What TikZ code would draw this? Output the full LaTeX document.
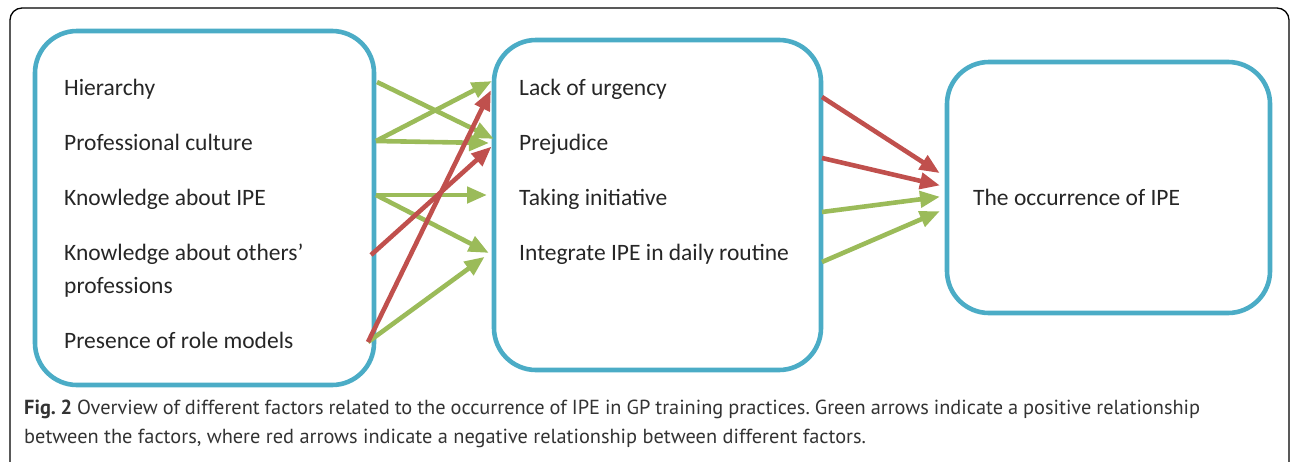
\documentclass[tikz,border=0pt]{standalone}
\usepackage{fontspec}
\setmainfont{Carlito}
\newfontfamily\capfont{PT Sans}
\usetikzlibrary{arrows.meta}
\definecolor{frameblue}{HTML}{4BACC6}
\definecolor{posgreen}{HTML}{9BBB59}
\definecolor{negred}{HTML}{C0504D}
\definecolor{ink}{HTML}{262626}
\definecolor{capink}{HTML}{333333}
\begin{document}
\frenchspacing
\begin{tikzpicture}[x=1pt,y=-1pt,
  factorbox/.style={draw=frameblue,line width=4.6pt,rounded corners=42pt},
  factor/.style={anchor=base west,inner sep=0pt,text=ink,font=\fontsize{23.5}{28}\selectfont},
  captext/.style={anchor=base west,inner sep=0pt,text=capink,font=\capfont\fontsize{20.35}{24}\selectfont},
  link/.style={line width=4.6pt,-{Triangle[length=20pt,width=16pt]},shorten >=-2pt},
  poslink/.style={link,draw=posgreen},
  neglink/.style={link,draw=negred}]
\useasboundingbox (0,0) rectangle (1292,461);
% outer frame of the figure panel
\draw[line width=1.3pt,rounded corners=12pt] (10,472) -- (10,8) -- (1289,8) -- (1289,472);

% the three boxes
\draw[factorbox] (35,31) rectangle (374,385);
\draw[factorbox] (494,40) rectangle (821,370);
\draw[factorbox] (947,62) rectangle (1270,313);

% left column
\node[factor] (hier) at (64,95) {Hierarchy};
\node[factor] (cult) at (64,150) {Professional culture};
\node[factor] (kipe) at (64,205) {Knowledge about IPE};
\node[factor] (koth) at (64,260) {Knowledge about others’};
\node[factor] (prof) at (64,293) {professions};
\node[factor] (role) at (64,348) {Presence of role models};

% middle column
\node[factor] (urg) at (519,95) {Lack of urgency};
\node[factor] (prej) at (519,150) {Prejudice};
\node[factor] (init) at (519,205) {Taking initiative};
\node[factor] (rout) at (519,260) {Integrate IPE in daily routine};

% outcome
\node[factor] (occ) at (973,205) {The occurrence of IPE};

% arrow end points
\coordinate (hierOut) at (377,82);
\coordinate (cultOut) at (376,141);
\coordinate (kipeOut) at (376,195);
\coordinate (kothOut) at (371,255);
\coordinate (roleOut) at (368,342);
\coordinate (urgIn) at (490,82);
\coordinate (urgInR) at (490,92);
\coordinate (prejIn) at (492,138);
\coordinate (prejInB) at (487,143);
\coordinate (prejInR) at (490,148);
\coordinate (initIn) at (485,195);
\coordinate (routIn) at (487,252);
\coordinate (routInB) at (483,258);

\coordinate (urgOut) at (822,97);
\coordinate (prejOut) at (822,158);
\coordinate (initOut) at (822,212);
\coordinate (routOut) at (822,262);
\coordinate (occA) at (938,172);
\coordinate (occB) at (938,185);
\coordinate (occC) at (938,197);
\coordinate (occD) at (938,212);

% factor -> mediator links
\draw[poslink] (hierOut) -- (prejIn);
\draw[poslink] (cultOut) -- (urgIn);
\draw[poslink] (cultOut) -- (prejInB);
\draw[poslink] (kipeOut) -- (initIn);
\draw[poslink] (kipeOut) -- (routIn);
\draw[poslink] (roleOut) -- (routInB);
\draw[neglink] (kothOut) -- (prejInR);
\draw[neglink] (roleOut) -- (urgInR);

% mediator -> outcome links
\draw[neglink] (urgOut) -- (occA);
\draw[neglink] (prejOut) -- (occB);
\draw[poslink] (initOut) -- (occC);
\draw[poslink] (routOut) -- (occD);

% caption: first line justified, last line natural width
\node[captext] (cap1) at (24,414) {\makebox[1176pt][s]{\textbf{Fig. 2} Overview of different factors related to the occurrence of IPE in GP training practices. Green arrows indicate a positive relationship}};
\node[captext] (cap2) at (24,443) {between the factors, where red arrows indicate a negative relationship between different factors.};
\end{tikzpicture}
\end{document}
